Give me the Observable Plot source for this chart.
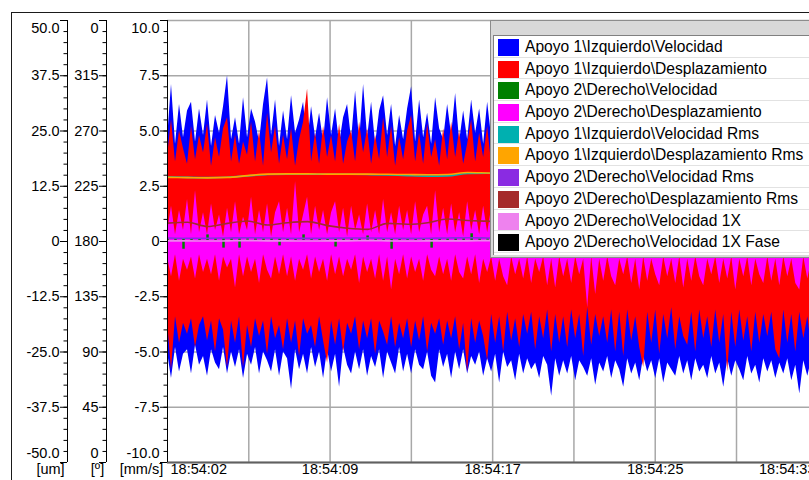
<!DOCTYPE html>
<html>
<head>
<meta charset="utf-8">
<script src="https://cdn.jsdelivr.net/npm/d3@7"></script>
<script src="https://cdn.jsdelivr.net/npm/@observablehq/plot@0.6"></script>
<style>
  html, body { margin: 0; padding: 0; background: #fff; overflow: hidden; width: 809px; height: 480px; }
  #wrap { position: relative; width: 809px; height: 480px; overflow: hidden; }
  #frame { position: absolute; left: 11px; top: 12px; width: 900px; height: 600px;
           border-left: 1.5px solid #1a1a1a; border-top: 1.5px solid #1a1a1a; pointer-events: none; }
  #legend { position: absolute; left: 490px; top: 20px; width: 380px; height: 238px;
            background: #d8d8d8; border: 1px solid #8c8c8c; box-sizing: border-box;
            font: 15.6px "Liberation Sans", Arial, sans-serif; color: #000; }
  #legend .rows { position: absolute; left: 2px; top: 14px; right: 0; bottom: 2px;
                  background: #fff; border-top: 1px solid #808080; border-left: 1px solid #808080; }
  #legend .row { position: relative; height: 21.7px; box-sizing: border-box; border-bottom: 1px solid #e2e2e2; }
  #legend .sw { position: absolute; left: 4px; top: 3px; width: 21px; height: 17px; }
  #legend .lb { position: absolute; left: 31px; top: 0; line-height: 21.7px; white-space: nowrap; }
</style>
</head>
<body>
<div id="wrap"></div>
<script>
// ---------- time base (seconds after 18:54:00) ----------
const T_START = 2.0;
const X_END = 33.09;
const GRID_STEP = 3.9;          // vertical grid spacing (s)
const SAMPLE_STEP = 0.192;      // envelope samples
const GREEN_STEP = 0.384;
const RMS_STEP = 0.96;
const UM_PER_MMS = 5;           // 50 um <-> 10 mm/s

const timeLabels = ["18:54:02", "18:54:09", "18:54:17", "18:54:25", "18:54:33"];
const velTicks = [10, 7.5, 5, 2.5, 0, -2.5, -5, -7.5, -10];
const velTickLabels = ["10.0", "7.5", "5.0", "2.5", "0", "-2.5", "-5.0", "-7.5", "-10.0"];
const umTickLabels = ["50.0", "37.5", "25.0", "12.5", "0", "-12.5", "-25.0", "-37.5", "-50.0"];
const degTickLabels = ["0", "315", "270", "225", "180", "135", "90", "45", "0"];
const unitLabels = ["[um]", "[º]", "[mm/s]"];

const seriesNames = [
  "Apoyo 1\\Izquierdo\\Velocidad",
  "Apoyo 1\\Izquierdo\\Desplazamiento",
  "Apoyo 2\\Derecho\\Velocidad",
  "Apoyo 2\\Derecho\\Desplazamiento",
  "Apoyo 1\\Izquierdo\\Velocidad Rms",
  "Apoyo 1\\Izquierdo\\Desplazamiento Rms",
  "Apoyo 2\\Derecho\\Velocidad Rms",
  "Apoyo 2\\Derecho\\Desplazamiento Rms",
  "Apoyo 2\\Derecho\\Velocidad 1X",
  "Apoyo 2\\Derecho\\Velocidad 1X Fase"
];
const seriesColors = ["#0000ff", "#ff0000", "#008000", "#ff00ff", "#00b0b0",
                      "#ffa500", "#8a2be2", "#a52a2a", "#ee82ee", "#000000"];

// ---------- Apoyo 1 Izquierdo Velocidad (mm/s): max / min per sample ----------
const vel1Hi = [
  4.6, 7.1, 4.4, 6.2, 4.7, 5.9, 6.3, 4.5, 6.0, 4.8,
  6.4, 4.3, 5.7, 4.9, 6.1, 7.5, 4.6, 5.6, 4.4, 6.5,
  4.7, 6.0, 5.4, 4.5, 6.2, 7.4, 4.8, 6.4, 4.3, 5.9,
  4.6, 6.6, 4.9, 5.5, 6.3, 4.4, 6.1, 4.7, 5.8, 4.5,
  6.5, 4.8, 6.0, 4.4, 5.6, 6.2, 4.6, 6.8, 4.5, 7.1,
  4.7, 6.3, 4.4, 5.9, 6.6, 4.8, 6.2, 4.3, 5.7, 4.6,
  6.0, 7.0, 4.5, 6.4, 4.7, 5.8, 4.4, 6.5, 5.1, 4.6,
  6.2, 4.8, 6.7, 4.5, 5.9, 4.6, 6.4, 4.9, 6.0, 4.4,
  6.3, 4.7, 5.8, 6.5, 4.5, 6.1, 4.8, 6.6, 4.4, 5.9,
  4.7, 6.4, 4.5, 6.0, 5.2, 4.6, 6.7, 4.8, 6.1, 4.5,
  6.3, 4.4, 5.8, 6.4, 4.7, 6.0, 4.5, 6.6, 4.8, 5.7,
  4.6, 6.2, 4.4, 6.5, 5.0, 4.7, 6.3, 4.5, 6.0, 4.8,
  6.4, 4.5, 5.9, 4.7, 6.6, 4.4, 6.1, 5.3, 4.6, 6.5,
  4.8, 6.0, 4.5, 6.3, 4.7, 5.8, 6.4, 4.4, 6.1, 4.6,
  6.5, 4.8, 5.9, 4.5, 6.2, 4.7, 6.6, 4.4, 6.0, 4.9,
  6.3, 4.6, 5.7, 6.4, 4.5, 6.1, 4.8, 6.5, 4.4, 6.0,
  4.7, 6.3, 4.5, 5.9, 6.6, 4.6, 6.2, 4.8, 6.0, 4.5, 6.4
];
const vel1Lo = [
  -5.0, -6.2, -4.8, -5.9, -5.1, -4.9, -6.0, -4.7, -5.6, -5.2,
  -6.1, -4.9, -5.5, -5.8, -4.8, -6.0, -5.0, -5.7, -4.9, -6.2,
  -5.1, -5.6, -4.8, -6.0, -5.0, -5.4, -5.9, -4.9, -6.1, -5.0,
  -5.3, -6.7, -4.9, -5.8, -5.1, -6.0, -4.8, -5.7, -5.0, -6.2,
  -4.9, -5.9, -5.1, -6.6, -4.8, -5.6, -6.0, -5.0, -5.8, -4.9,
  -6.1, -5.2, -5.7, -4.9, -6.2, -5.0, -5.5, -6.0, -4.8, -5.9,
  -5.1, -6.0, -4.9, -5.6, -5.8, -5.0, -6.1, -6.4, -4.9, -5.7,
  -5.1, -6.2, -5.0, -5.8, -4.9, -6.0, -5.2, -5.6, -5.0, -6.1,
  -5.3, -5.9, -5.1, -6.4, -5.0, -5.7, -5.4, -6.3, -5.1, -6.0,
  -5.3, -5.8, -5.5, -6.2, -5.2, -5.6, -7.0, -5.3, -6.1, -5.4,
  -6.0, -5.2, -6.3, -5.4, -5.7, -6.1, -5.3, -6.5, -5.5, -5.9,
  -5.2, -6.2, -5.4, -5.8, -6.6, -5.3, -6.0, -5.5, -6.3, -5.2,
  -5.9, -5.4, -6.2, -5.3, -6.4, -5.5, -5.8, -6.1, -5.2, -6.0,
  -5.4, -6.3, -5.3, -5.9, -5.6, -6.2, -5.2, -6.0, -5.5, -6.6,
  -5.3, -6.1, -5.4, -5.8, -6.3, -5.2, -6.0, -5.6, -6.4, -5.3,
  -5.9, -5.4, -6.2, -5.5, -6.0, -5.3, -6.3, -5.6, -6.9, -5.4,
  -6.1, -5.3, -6.2, -5.5, -5.9, -6.3, -5.4, -6.1, -5.6, -6.4, -5.3
];
// ---------- Apoyo 1 Izquierdo Desplazamiento (um) ----------
const disp1Hi = [
  19, 27.5, 18, 25, 21, 17.5, 26, 18.5, 24, 20,
  26.5, 17, 23.5, 19, 25.5, 28, 18, 24, 17.5, 22.5,
  19.5, 27, 18, 25, 17, 29, 20, 26, 17.5, 24,
  18.5, 25.5, 17, 23, 27, 34.5, 18, 24.5, 17.5, 26,
  19, 24, 18, 26.5, 17.5, 22.5, 25, 18, 27, 20,
  25.5, 17.5, 24, 18.5, 28, 19, 26, 17, 23.5, 18.5,
  25, 28.5, 18, 24.5, 17.5, 26.5, 19, 23, 17, 25.5,
  18.5, 27, 19, 25, 17.5, 22, 27.5, 18, 24.5, 19,
  26, 17.5, 23.5, 25.5, 18, 26.5, 19, 24, 17.5, 25,
  18.5, 24.5, 17.5, 27, 19, 23, 26, 18, 24.5, 19,
  25, 17.5, 23.5, 26.5, 18, 25.5, 19, 24, 26, 18,
  24.5, 17.5, 27.5, 19, 24, 18, 25.5, 19.5, 25, 18,
  23.5, 26.5, 18, 24.5, 17.5, 26, 19, 24, 18.5, 27,
  19, 25, 17.5, 23, 25.5, 18.5, 24.5, 19, 17.5, 26.5,
  18.5, 24.5, 19, 26, 17.5, 23.5, 25, 18, 27.5, 19,
  24, 25.5, 17.5, 23, 26.5, 18.5, 24.5, 19, 23.5, 26,
  18, 24.5, 19, 25.5, 17.5, 23.5, 26.5, 18.5, 24.5, 19, 25
];
const disp1Lo = [
  -18, -29, -17, -23, -18.5, -21, -17.5, -24, -19, -17,
  -22.5, -18, -25, -17.5, -20, -28.5, -18, -23, -17, -28.5,
  -19, -24, -17.5, -21.5, -18, -25.5, -17, -22, -19, -24.5,
  -17.5, -23, -18, -26, -17.5, -21, -19, -24, -17, -22.5,
  -27.5, -18, -23.5, -17.5, -25, -18.5, -21, -17, -24.5, -18,
  -22, -17.5, -25.5, -18, -20.5, -23.5, -17, -24, -18.5, -22,
  -17.5, -24, -18, -22.5, -17, -25, -18.5, -21, -17.5, -23.5,
  -18, -22, -17, -24.5, -18.5, -29.5, -17.5, -23, -18, -21.5,
  -27, -16.5, -23, -17, -25, -16, -22.5, -17.5, -24, -16.5,
  -21, -16, -24.5, -17, -22, -15.5, -25, -16.5, -23, -17,
  -24, -15.5, -22, -16.5, -26, -15, -23.5, -16.5, -21.5, -17,
  -23, -15.5, -25, -16, -26, -15.5, -22.5, -17, -24, -28.5,
  -16, -23, -15.5, -25.5, -16.5, -22, -15, -24.5, -17, -21.5,
  -23.5, -16, -25, -15.5, -22, -17, -24, -15.5, -23, -16.5,
  -29.5, -16, -24, -15.5, -22.5, -17, -25, -16, -23, -16.5,
  -21.5, -16, -24.5, -26.5, -15.5, -23, -16.5, -25, -16, -22,
  -17, -24, -15.5, -22.5, -16.5, -25, -16, -23.5, -15.5, -24, -17
];
// ---------- Apoyo 2 Derecho Desplazamiento (um) ----------
const disp2Hi = [
  2, 8, 1.5, 7, 2.5, 9.5, 1.5, 11.5, 2, 6.5,
  1.5, 8.5, 2.5, 6, 1, 7.5, 2, 9, 1.5, 5.5,
  2.5, 10, 1.5, 7, 2, 8.5, 1, 6.5, 9, 2,
  7.5, 1.5, 13.5, 2, 6, 10, 1.5, 8, 2.5, 7,
  1.5, 6.5, 9, 2, 7.5, 1, 8, 2.5, 6, 1.5,
  8.5, 2, 7, 1.5, 9.5, 2, 6.5, 1.5, 8, 2.5,
  7, 1.5, 9, 2, 6, 8, 1.5, 11.5, 2, 7.5,
  1.5, 8.5, 2, 6.5, 1, 9, 2.5, 7, 1.5, 8,
  2, 7.5, 1.5, 9, 2, 6, 1.5, 8.5, 2.5, 7,
  1.5, 8, 2, 6.5, 1.5, 9, 2, 7, 1.5, 8.5,
  2, 7, 1.5, 9, 2.5, 6.5, 1.5, 8, 2, 7.5,
  1.5, 8.5, 2, 6, 1.5, 9, 2, 7, 1.5, 8,
  2.5, 7.5, 1.5, 8.5, 2, 6.5, 1.5, 9, 2, 7,
  1.5, 8, 2, 7.5, 1.5, 9, 2.5, 6.5, 1.5, 8.5,
  2, 7, 1.5, 9, 2, 6, 1.5, 8, 2.5, 7.5,
  1.5, 8.5, 2, 7, 1.5, 9, 2, 6.5, 1.5, 8,
  2, 7.5, 1.5, 8.5, 2, 6, 1.5, 9, 2, 7, 1.5
];
const disp2Lo = [
  -3.5, -8, -3, -9, -4, -6.5, -3.5, -8.5, -3, -7,
  -4, -7.5, -3, -9, -3.5, -6, -4, -10.5, -3, -8,
  -3.5, -7, -4, -9.5, -3, -6.5, -8.5, -3.5, -7.5, -3,
  -8, -3.5, -9, -4, -6.5, -3, -8.5, -3.5, -7, -4,
  -9, -3, -7.5, -3.5, -8, -4, -6.5, -3, -9.5, -3.5,
  -7, -4, -8.5, -3, -9, -3.5, -11, -4, -7.5, -3,
  -8.5, -3.5, -7, -4, -9, -3, -6.5, -8, -3.5, -7.5,
  -4, -9, -3, -7, -8.5, -3.5, -7.5, -3, -9.5, -4,
  -7, -3.5, -9, -4, -8, -10, -3.5, -7.5, -4, -8.5,
  -3.5, -9.5, -4, -7, -3.5, -10, -4, -10.5, -3.5, -8,
  -4, -9.5, -3.5, -7.5, -4, -15, -3.5, -12, -4, -9,
  -3.5, -8, -10, -4, -7.5, -3.5, -9.5, -4, -11, -3.5,
  -9, -4, -7.5, -10, -3.5, -8, -4, -9.5, -3.5, -10.5,
  -4, -9, -3.5, -8, -10, -4, -7.5, -3.5, -9.5, -4,
  -8.5, -3.5, -11, -4, -8, -3.5, -10, -4, -7.5, -9.5,
  -3.5, -9, -4, -10, -3.5, -8, -4, -9.5, -11, -3.5,
  -8.5, -4, -9, -3.5, -10, -4, -8, -3.5, -9.5, -4, -10.5
];
// ---------- Apoyo 2 Derecho Velocidad (mm/s): max / min per sample ----------
const vel2Hi = [
  0.12, 0.12, 0.12, 0.12, 0.12, 0.3, 0.12, 0.12, 0.12, 0.12,
  0.12, 0.12, 0.12, 0.12, 0.12, 0.12, 0.12, 0.3, 0.12, 0.12,
  0.12, 0.12, 0.12, 0.12, 0.12, 0.25, 0.12, 0.12, 0.12, 0.12,
  0.12, 0.12, 0.12, 0.12, 0.12, 0.12, 0.12, 0.12, 0.35, 0.12,
  0.12, 0.12, 0.12, 0.12, 0.12, 0.3, 0.12, 0.12, 0.12, 0.12,
  0.12, 0.12, 0.12, 0.12, 0.25, 0.12, 0.12, 0.12, 0.12, 0.12,
  0.12, 0.12, 0.3, 0.12, 0.12, 0.12, 0.12, 0.12, 0.12, 0.12,
  0.25, 0.12, 0.12, 0.12, 0.12, 0.12, 0.12, 0.3, 0.12, 0.12,
  0.12, 0.12, 0.12, 0.12, 0.12, 0.12
];
const vel2Lo = [
  0.05, 0.05, -0.35, 0.05, 0.05, 0.05, 0.05, -0.3, 0.05, -0.3,
  0.05, 0.05, 0.05, 0.05, -0.2, 0.05, 0.05, 0.05, 0.05, 0.05,
  0.05, -0.25, 0.05, 0.05, 0.05, 0.05, 0.05, 0.05, -0.35, 0.05,
  0.05, 0.05, 0.05, -0.3, 0.05, 0.05, 0.05, 0.05, 0.05, 0.05,
  0.05, -0.3, 0.05, 0.05, 0.05, 0.05, 0.05, -0.25, 0.05, 0.05,
  0.05, 0.05, -0.3, 0.05, 0.05, 0.05, 0.05, 0.05, -0.2, 0.05,
  0.05, 0.05, 0.05, 0.05, -0.3, 0.05, 0.05, 0.05, 0.05, -0.25,
  0.05, 0.05, 0.05, 0.05, -0.3, 0.05, 0.05, 0.05, 0.05, 0.05,
  -0.3, 0.05, 0.05, 0.05, 0.05, -0.2
];
// ---------- trend series ----------
const vel1Rms = [2.92, 2.90, 2.89, 2.91, 2.97, 3.03, 3.05, 3.05, 3.04, 3.04, 3.03, 3.01, 2.98, 2.96, 2.97, 3.08, 3.09, 3.07,
  3.05, 3.04, 3.03, 3.04, 3.05, 3.03, 3.01, 3.02, 3.04, 3.04, 3.03, 3.05, 3.06, 3.05, 3.03, 3.04];
const disp1Rms = [14.5, 14.45, 14.4, 14.5, 14.9, 15.25, 15.3, 15.3, 15.25, 15.25, 15.25, 15.2, 15.15, 15.1, 15.15, 15.6, 15.5, 15.4,
  15.3, 15.3, 15.2, 15.25, 15.3, 15.2, 15.1, 15.2, 15.3, 15.25, 15.2, 15.3, 15.35, 15.3, 15.2, 15.25];
const vel2Rms = [0.16, 0.15, 0.15, 0.16, 0.17, 0.16, 0.15, 0.14, 0.15, 0.16, 0.16, 0.15, 0.14, 0.15, 0.16, 0.17, 0.16, 0.15,
  0.15, 0.16, 0.15, 0.14, 0.15, 0.16, 0.16, 0.15, 0.15, 0.16, 0.15, 0.14, 0.15, 0.16, 0.15, 0.15];
const disp2Rms = [4.15, 4.35, 3.4, 4.1, 4.65, 3.75, 4.25, 4.5, 3.6, 3.0, 2.75, 4.1, 3.9, 4.25, 5.1, 4.75, 4.6, 4.3,
  4.0, 4.4, 4.2, 3.8, 4.1, 4.5, 4.3, 3.9, 4.2, 4.4, 4.0, 4.3, 4.5, 4.2, 4.0, 4.3];
const vel2_1X = [0.03, 0.03, 0.02, 0.03, 0.04, 0.03, 0.03, 0.02, 0.03, 0.03, 0.04, 0.03, 0.02, 0.03, 0.03, 0.03, 0.04, 0.03,
  0.02, 0.03, 0.03, 0.03, 0.04, 0.03, 0.02, 0.03, 0.03, 0.04, 0.03, 0.03, 0.02, 0.03, 0.03, 0.04];
const vel2_1XFase = []; // no samples drawn in the view

// ---------- build tables ----------
const envelope = (hi, lo, step, k = 1) => hi.map((h, i) => ({t: T_START + i * step, hi: h / k, lo: lo[i] / k}));
const series = (vals, step, k = 1) => vals.map((v, i) => ({t: T_START + i * step, v: v / k}));

const blueEnv = envelope(vel1Hi, vel1Lo, SAMPLE_STEP);
const redEnv = envelope(disp1Hi, disp1Lo, SAMPLE_STEP, UM_PER_MMS);
const magEnv = envelope(disp2Hi, disp2Lo, SAMPLE_STEP, UM_PER_MMS);
const greenEnv = envelope(vel2Hi, vel2Lo, GREEN_STEP);
const tealLine = series(vel1Rms, RMS_STEP);
const orangeLine = series(disp1Rms, RMS_STEP, UM_PER_MMS);
const purpleLine = series(vel2Rms, RMS_STEP);
const brownLine = series(disp2Rms, RMS_STEP, UM_PER_MMS);
const violetLine = series(vel2_1X, RMS_STEP);

const gridTimes = d3.range(T_START + GRID_STEP, X_END, GRID_STEP);
const labelTimes = timeLabels.map((_, i) => T_START + i * 2 * GRID_STEP);
const minorTicks = d3.range(-10, 10.01, 0.5);

const AX_VEL = 0, AX_DEG = -61, AX_UM = -100;

function axisMarks(off, labels) {
  const mid = velTicks.map((v, i) => ({v, s: labels[i]}));
  return [
    Plot.ruleX([T_START], {y1: -10, y2: 10, dx: off, stroke: "#000", strokeWidth: 1}),
    Plot.axisY({ticks: minorTicks, tickSize: 3.5, dx: off, fill: "none", stroke: "#000", label: null}),
    Plot.axisY({ticks: velTicks, tickSize: 7, dx: off, fill: "none", stroke: "#000", label: null}),
    Plot.text(mid.slice(1, -1), {y: "v", text: "s", frameAnchor: "left", dx: off - 8, textAnchor: "end", fill: "#000"}),
    Plot.text(mid.slice(0, 1), {y: "v", text: "s", frameAnchor: "left", dx: off - 8, dy: 8, textAnchor: "end", fill: "#000"}),
    Plot.text(mid.slice(-1), {y: "v", text: "s", frameAnchor: "left", dx: off - 8, dy: -9, textAnchor: "end", fill: "#000"})
  ];
}

const chart = Plot.plot({
  width: 815,
  height: 480,
  marginLeft: 167,
  marginRight: 0,
  marginTop: 20,
  marginBottom: 18,
  x: {domain: [T_START, X_END], axis: null},
  y: {domain: [-10, 10], axis: null},
  style: {fontFamily: "'Liberation Sans', Arial, sans-serif", fontSize: "14.5px", background: "#fff",
          maxWidth: "none", overflow: "visible", color: "#000"},
  marks: [
    Plot.ruleY(velTicks, {stroke: "#a8a8a8", strokeWidth: 1.5}),
    Plot.ruleX(gridTimes, {stroke: "#a8a8a8", strokeWidth: 1.5}),
    Plot.areaY(blueEnv, {x: "t", y1: "lo", y2: "hi", fill: seriesColors[0], clip: true}),
    Plot.areaY(redEnv, {x: "t", y1: "lo", y2: "hi", fill: seriesColors[1], clip: true}),
    Plot.areaY(magEnv, {x: "t", y1: "lo", y2: "hi", fill: seriesColors[3], clip: true}),
    Plot.ruleX(greenEnv, {x: "t", y1: "lo", y2: "hi", stroke: seriesColors[2], strokeWidth: 2.5, clip: true}),
    Plot.line(tealLine, {x: "t", y: "v", stroke: seriesColors[4], strokeWidth: 1.6, curve: "monotone-x", clip: true}),
    Plot.line(orangeLine, {x: "t", y: "v", stroke: seriesColors[5], strokeWidth: 1.6, curve: "monotone-x", clip: true}),
    Plot.line(brownLine, {x: "t", y: "v", stroke: seriesColors[7], strokeWidth: 1.6, curve: "monotone-x", clip: true}),
    Plot.line(purpleLine, {x: "t", y: "v", stroke: seriesColors[6], strokeWidth: 1.6, curve: "monotone-x", clip: true}),
    Plot.line(violetLine, {x: "t", y: "v", stroke: seriesColors[8], strokeWidth: 1.6, curve: "monotone-x", clip: true}),
    Plot.ruleY([-10], {stroke: "#606060", strokeWidth: 2}),
    ...axisMarks(AX_VEL, velTickLabels),
    ...axisMarks(AX_DEG, degTickLabels),
    ...axisMarks(AX_UM, umTickLabels),
    Plot.text([timeLabels[0]], {x: labelTimes[0], frameAnchor: "bottom", dy: 11, dx: 3, textAnchor: "start", fill: "#000"}),
    Plot.text(timeLabels.slice(1, -1), {x: (d, i) => labelTimes[i + 1], frameAnchor: "bottom", dy: 11, textAnchor: "middle", fill: "#000"}),
    Plot.text(timeLabels.slice(-1), {frameAnchor: "bottom-right", dy: 11, textAnchor: "end", fill: "#000"}),
    Plot.text([unitLabels[2]], {frameAnchor: "bottom-left", dx: -26, dy: 11, textAnchor: "middle", fill: "#000"}),
    Plot.text([unitLabels[1]], {frameAnchor: "bottom-left", dx: -70, dy: 11, textAnchor: "middle", fill: "#000"}),
    Plot.text([unitLabels[0]], {frameAnchor: "bottom-left", dx: -117, dy: 11, textAnchor: "middle", fill: "#000"})
  ]
});

const wrap = document.getElementById("wrap");
wrap.appendChild(chart);

const frame = document.createElement("div");
frame.id = "frame";
wrap.appendChild(frame);

const legend = document.createElement("div");
legend.id = "legend";
const rows = document.createElement("div");
rows.className = "rows";
seriesNames.forEach((name, i) => {
  const row = document.createElement("div");
  row.className = "row";
  const sw = document.createElement("div");
  sw.className = "sw";
  sw.style.background = seriesColors[i];
  const lb = document.createElement("div");
  lb.className = "lb";
  lb.textContent = name;
  row.appendChild(sw);
  row.appendChild(lb);
  rows.appendChild(row);
});
legend.appendChild(rows);
wrap.appendChild(legend);
</script>
</body>
</html>
